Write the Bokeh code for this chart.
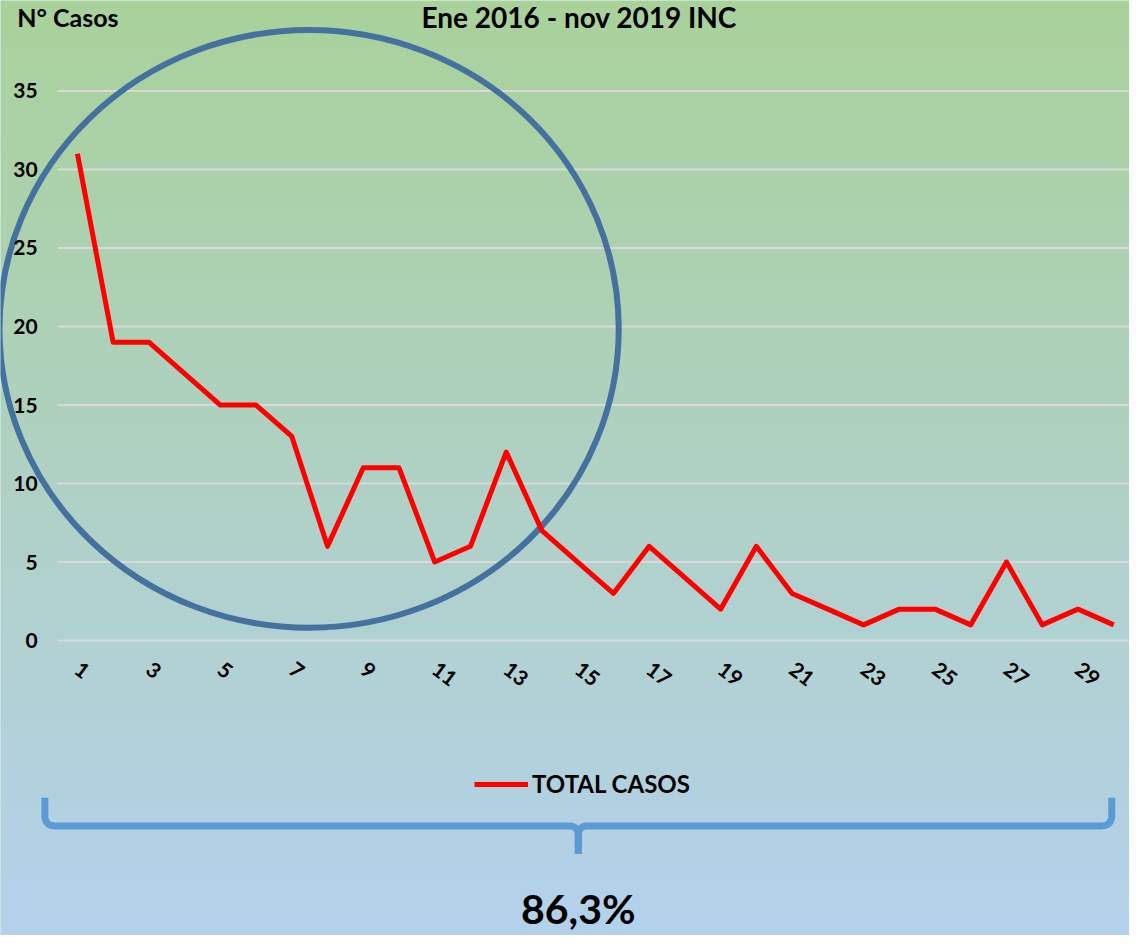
import math
import numpy as np
from bokeh.plotting import figure
from bokeh.models import Range1d, LinearAxis, FixedTicker, Legend, LegendItem
from bokeh.core.properties import value
from bokeh.embed import file_html
from bokeh.resources import INLINE

# ---------------- data ----------------
months = list(range(1, 31))
total_casos = [31, 19, 19, 17, 15, 15, 13, 6, 11, 11, 5, 6, 12, 7, 5,
               3, 6, 4, 2, 6, 3, 2, 1, 2, 2, 1, 5, 1, 2, 1]
x_ticks = [1, 3, 5, 7, 9, 11, 13, 15, 17, 19, 21, 23, 25, 27, 29]
y_ticks = [0, 5, 10, 15, 20, 25, 30, 35]
series_name = "TOTAL CASOS"
title_text = "Ene 2016 - nov 2019 INC"
y_title = "N° Casos"
share_text = "86,3%"

# ---------------- layout ----------------
W, H = 1129, 935            # figure size in pixels
RW, RH = 1145.0, 951.0      # design canvas
SX, SY = W / RW, H / RH
X1, DXP = 78.0, 36.24       # design x of month 1, design px per month
Y0, DYP = 651.0, 15.971     # design y of value 0, design px per case
FONT = value("Lato")


def dx(X):
    return 1 + (X - X1) / DXP


def dy(Y):
    return (Y0 - Y) / DYP


def px(v):
    return "%dpx" % round(v * SX)


p = figure(width=W, height=H, x_range=Range1d(dx(0), dx(RW)), y_range=Range1d(dy(RH), dy(0)),
           output_backend="svg", toolbar_location=None, min_border=0,
           x_axis_type=None, y_axis_type=None, outline_line_color=None)
p.background_fill_color = "#aed1c8"
p.border_fill_color = "#aed1c8"

# gradient background
top = np.array([169, 209, 154], dtype=float)
bot = np.array([180, 209, 236], dtype=float)
img = np.zeros((H, 2), dtype=np.uint32)
view = img.view(dtype=np.uint8).reshape((H, 2, 4))
for i in range(H):
    t = i / (H - 1)
    c = bot + t * (top - bot)
    view[i, :, 0] = int(round(c[0]))
    view[i, :, 1] = int(round(c[1]))
    view[i, :, 2] = int(round(c[2]))
    view[i, :, 3] = 255
p.image_rgba(image=[img], x=dx(0), y=dy(RH), dw=dx(RW) - dx(0), dh=dy(0) - dy(RH))

# grid lines
p.segment(x0=[dx(58)] * len(y_ticks), x1=[dx(RW)] * len(y_ticks), y0=y_ticks, y1=y_ticks,
          line_color="#d9d9d9", line_width=2)

# axes
yaxis = LinearAxis(ticker=FixedTicker(ticks=y_ticks), fixed_location=dx(58))
yaxis.axis_line_color = None
yaxis.major_tick_in = 0
yaxis.major_tick_out = 0
yaxis.minor_tick_in = 0
yaxis.minor_tick_out = 0
yaxis.major_label_standoff = 20
yaxis.major_label_text_font = "Lato"
yaxis.major_label_text_font_style = "bold"
yaxis.major_label_text_font_size = "21px"
yaxis.major_label_text_color = "black"
p.add_layout(yaxis, "left")

xaxis = LinearAxis(ticker=FixedTicker(ticks=x_ticks), fixed_location=0)
xaxis.axis_line_color = None
xaxis.major_tick_in = 0
xaxis.major_tick_out = 0
xaxis.minor_tick_in = 0
xaxis.minor_tick_out = 0
xaxis.major_label_orientation = -0.65
xaxis.major_label_standoff = 26
xaxis.major_label_text_font = "Lato"
xaxis.major_label_text_font_style = "bold"
xaxis.major_label_text_font_size = "21px"
xaxis.major_label_text_color = "black"
p.add_layout(xaxis, "below")

# ellipse highlight
p.ellipse(x=dx(313), y=dy(334), width=628 * SX, height=608 * SY,
          width_units="screen", height_units="screen",
          fill_alpha=0, line_color="#44719e", line_width=6)

# data line
line_r = p.line(months, total_casos, line_color="#ff0000", line_width=5, line_join="round")

# brace


def qbez(a, b, c, n=10):
    pts = []
    for k in range(n + 1):
        t = k / n
        pts.append(((1 - t) ** 2 * a[0] + 2 * (1 - t) * t * b[0] + t * t * c[0],
                    (1 - t) ** 2 * a[1] + 2 * (1 - t) * t * b[1] + t * t * c[1]))
    return pts


L, R, C, TOPB, MID, BOT = 45, 1127, 586, 811, 839.5, 868
left = [(L, TOPB)] + qbez((L, 830), (L + 1, MID), (L + 10, MID)) + \
       qbez((C - 10, MID), (C, MID), (C, MID + 10)) + [(C, BOT)]
right = [(C, BOT)] + qbez((C, MID + 10), (C, MID), (C + 10, MID)) + \
        qbez((R - 10, MID), (R - 1, MID), (R, 830)) + [(R, TOPB)]
for part in (left, right):
    p.line([dx(a) for a, _ in part], [dy(b) for _, b in part],
           line_color="#5b9bd5", line_width=7, line_join="round")

# texts (alphabetic baseline is rendered ~0.36em lower; requested y compensates)
p.text(x=[dx(587)], y=[dy(17)], text=[title_text], text_font=FONT, text_font_style="bold",
       text_font_size=px(28), text_align="center", text_baseline="alphabetic", text_color="black")
p.text(x=[dx(17)], y=[dy(17)], text=[y_title], text_font=FONT, text_font_style="bold",
       text_font_size=px(25), text_align="left", text_baseline="alphabetic", text_color="black")
p.text(x=[dx(586)], y=[dy(924)], text=[share_text], text_font=FONT, text_font_style="bold",
       text_font_size=px(42), text_align="center", text_baseline="alphabetic", text_color="black")

# legend
legend = Legend(items=[LegendItem(label=series_name, renderers=[line_r])],
                location=(round(481 * SX), 137),
                background_fill_alpha=0, border_line_color=None, padding=0, margin=0,
                glyph_width=54, glyph_height=20, label_standoff=4,
                label_text_font="Lato", label_text_font_style="bold",
                label_text_font_size=px(24), label_text_color="black")
p.add_layout(legend)

open("out.html", "w").write(file_html(p, INLINE))
